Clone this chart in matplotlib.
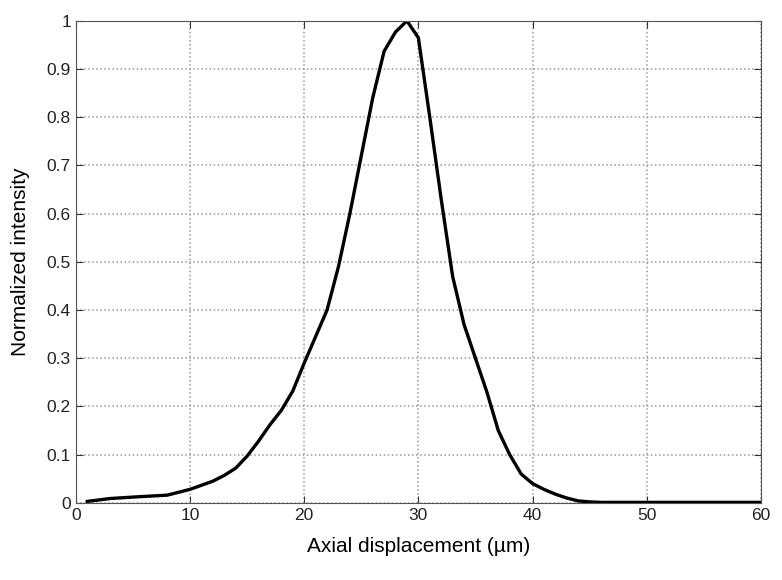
import matplotlib
matplotlib.use("Agg")
import matplotlib.pyplot as plt

# Axial response
DISPLACEMENT = [1, 2, 3, 5, 8, 10, 12, 13, 14, 15, 16, 17, 18, 19, 20, 21, 22,
                23, 24, 25, 26, 27, 28, 29, 30, 31, 32, 33, 34, 35, 36, 37, 38,
                39, 40, 41, 42, 43, 44, 45, 46, 50, 55, 60]
INTENSITY = [0.003, 0.006, 0.009, 0.012, 0.016, 0.028, 0.045, 0.057, 0.072,
             0.097, 0.128, 0.162, 0.192, 0.232, 0.29, 0.345, 0.40, 0.49, 0.60,
             0.72, 0.84, 0.937, 0.977, 1.0, 0.965, 0.80, 0.63, 0.47, 0.37,
             0.30, 0.23, 0.15, 0.10, 0.06, 0.04, 0.028, 0.018, 0.01, 0.004,
             0.002, 0.001, 0.001, 0.001, 0.001]

X_TICKS = [0, 10, 20, 30, 40, 50, 60]
Y_TICKS = [0, 0.1, 0.2, 0.3, 0.4, 0.5, 0.6, 0.7, 0.8, 0.9, 1]
Y_LABELS = ["0", "0.1", "0.2", "0.3", "0.4", "0.5", "0.6", "0.7", "0.8", "0.9", "1"]

plt.rcParams['font.family'] = ['Liberation Sans', 'DejaVu Sans']

fig = plt.figure(figsize=(7.82, 5.8), dpi=100)
ax = fig.add_axes([0.097, 0.133, 0.876, 0.831])

ax.plot(DISPLACEMENT, INTENSITY, color='black', linewidth=2.4)

ax.set_xlim(0, 60)
ax.set_ylim(0, 1)
ax.set_xticks(X_TICKS)
ax.set_yticks(Y_TICKS)
ax.set_yticklabels(Y_LABELS)
ax.tick_params(direction='in', top=True, right=True, labelsize=12.5, length=5,
               colors='#333333', labelcolor='#222222')
ax.grid(True, linestyle=':', color='#999999', linewidth=1.1)
for spine in ax.spines.values():
    spine.set_color('#555555')

ax.set_xlabel('Axial displacement (µm)', fontsize=15, labelpad=10)
ax.set_ylabel('Normalized intensity', fontsize=15, labelpad=12)

fig.savefig('out.png', dpi=100)
